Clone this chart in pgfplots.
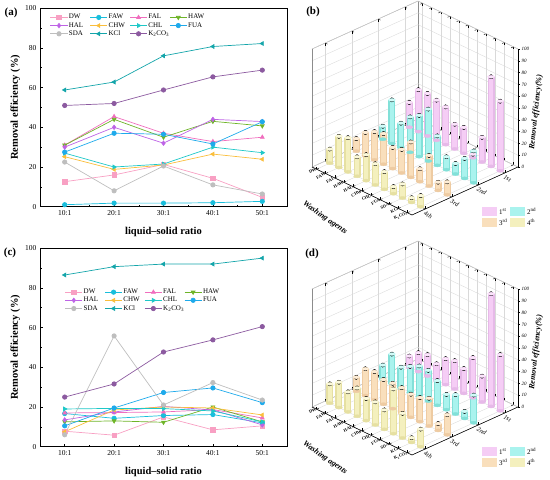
\documentclass[border=0pt]{standalone}
\usepackage{pgfplots}
\pgfplotsset{compat=1.18}
\usepackage{pgfplotstable}
\usepackage{fontspec}
\setmainfont{Liberation Serif}

\definecolor{cDW}{RGB}{248,160,195}
\definecolor{cFAW}{RGB}{25,190,220}
\definecolor{cFAL}{RGB}{240,110,190}
\definecolor{cHAW}{RGB}{110,180,40}
\definecolor{cHAL}{RGB}{190,100,230}
\definecolor{cCHW}{RGB}{250,190,60}
\definecolor{cCHL}{RGB}{30,200,200}
\definecolor{cFUA}{RGB}{30,170,235}
\definecolor{cSDA}{RGB}{190,190,190}
\definecolor{cKCl}{RGB}{20,165,170}
\definecolor{cKCO}{RGB}{140,90,160}

\definecolor{aD}{RGB}{230,185,232}\definecolor{aM}{RGB}{245,205,245}\definecolor{aT}{RGB}{251,228,251}
\definecolor{bD}{RGB}{130,224,216}\definecolor{bM}{RGB}{170,243,238}\definecolor{bT}{RGB}{210,251,248}
\definecolor{cD}{RGB}{238,203,162}\definecolor{cM}{RGB}{249,223,188}\definecolor{cT}{RGB}{253,237,215}
\definecolor{dD}{RGB}{230,224,162}\definecolor{dM}{RGB}{244,240,190}\definecolor{dT}{RGB}{251,249,220}

\pgfplotstableread{
x DW FAW FAL HAW HAL CHW CHL FUA SDA KCl KCO
1 12.6 1.0 31.0 31.0 30.0 25.2 27.0 27.5 22.5 58.8 51.0
2 16.0 1.8 45.4 44.0 40.0 18.8 20.0 37.0 8.0 62.8 52.0
3 21.3 1.8 37.0 35.0 32.0 21.0 21.5 36.5 20.5 76.0 58.8
4 14.3 2.0 32.8 43.0 44.0 26.5 30.0 31.6 11.0 80.7 65.4
5 4.7 2.7 35.0 40.7 42.9 23.9 27.2 42.8 6.4 82.2 68.8
}\dataA

\pgfplotstableread{
x DW FAW FAL HAW HAL CHW CHL FUA SDA KCl KCO
1 7.8 16.7 17.0 12.5 13.5 7.5 19.0 10.5 6.0 86.5 25.0
2 5.8 14.3 17.2 13.0 17.5 18.5 19.3 19.5 55.8 90.7 31.6
3 15.0 15.7 17.5 12.3 20.3 20.0 19.2 27.3 21.0 92.0 47.7
4 8.5 16.2 18.7 20.0 18.5 19.5 18.0 29.6 32.3 92.0 53.8
5 10.5 12.0 14.5 12.5 11.0 16.0 12.5 22.2 23.5 95.0 60.5
}\dataC

% panel (b): one table per wash (y: 1st=3 ... 4th=0), o = floor
\pgfplotstableread{
x y o v
0 3 0 21
1 3 0 35.5
2 3 0 36
3 3 0 34
4 3 0 32
5 3 0 21
6 3 0 22
7 3 0 3
8 3 0 21
9 3 0 76
10 3 0 59
}\bOne
\pgfplotstableread{
x y o v
0 2 0 11
1 2 0 37
2 2 0 21
3 2 0 30
4 2 0 35
5 2 0 44
6 2 0 25
7 2 0 11
8 2 0 9
9 2 0 17
10 2 0 27
}\bTwo
\pgfplotstableread{
x y o v
0 1 0 10.7
1 1 0 19.6
2 1 0 24
3 1 0 26
4 1 0 18
5 1 0 20
6 1 0 30
7 1 0 11
8 1 0 26
9 1 0 7
10 1 0 11
}\bThree
\pgfplotstableread{
x y o v
0 0 0 12
1 0 0 26.5
2 0 0 29
3 0 0 16.5
4 0 0 22
5 0 0 18
6 0 0 15
7 0 0 6
8 0 0 12
9 0 0 4
10 0 0 9.5
}\bFour

% panel (d)
\pgfplotstableread{
x y o v
0 3 0 9.5
1 3 0 16
2 3 0 18
3 3 0 14
4 3 0 22
5 3 0 24
6 3 0 21
7 3 0 34
8 3 0 22
9 3 0 95.5
10 3 0 47.6
}\dOne
\pgfplotstableread{
x y o v
0 2 0 12
1 2 0 25
2 2 0 17.6
3 2 0 22
4 2 0 26
5 2 0 26
6 2 0 21
7 2 0 13
8 2 0 16.5
9 2 0 6
10 2 0 23.5
}\dTwo
\pgfplotstableread{
x y o v
0 1 0 11.8
1 1 0 22.7
2 1 0 24
3 1 0 21
4 1 0 21.5
5 1 0 21.5
6 1 0 19.6
7 1 0 20.5
8 1 0 23.6
9 1 0 5.8
10 1 0 17
}\dThree
\pgfplotstableread{
x y o v
0 0 0 16.4
1 0 0 21.5
2 0 0 17
3 0 0 24
4 0 0 18.8
5 0 0 19.6
6 0 0 16.5
7 0 0 38
8 0 0 21
9 0 0 4
10 0 0 15
}\dFour

\newcommand\lgd[1]{\makebox[15pt][l]{#1}}

\pgfplotsset{
  sDW/.style={color=cDW, mark=square*, mark options={solid,fill=cDW}},
  sFAW/.style={color=cFAW, mark=*, mark options={solid,fill=cFAW}},
  sFAL/.style={color=cFAL, mark=triangle*, mark options={solid,fill=cFAL}},
  sHAW/.style={color=cHAW, mark=triangle*, mark options={solid,fill=cHAW,rotate=180}},
  sHAL/.style={color=cHAL, mark=diamond*, mark options={solid,fill=cHAL}},
  sCHW/.style={color=cCHW, mark=triangle*, mark options={solid,fill=cCHW,rotate=90}},
  sCHL/.style={color=cCHL, mark=triangle*, mark options={solid,fill=cCHL,rotate=-90}},
  sFUA/.style={color=cFUA, mark=*, mark options={solid,fill=cFUA}},
  sSDA/.style={color=cSDA, mark=*, mark options={solid,fill=cSDA}},
  sKCl/.style={color=cKCl, mark=triangle*, mark options={solid,fill=cKCl,rotate=90}},
  sKCO/.style={color=cKCO, mark=*, mark options={solid,fill=cKCO}},
  lineaxis/.style={
    anchor=south west, width=247pt, height=198.5pt, scale only axis,
    xmin=0.5, xmax=5.5, ymin=0, ymax=100,
    xtick={1,2,3,4,5}, xticklabels={10:1,20:1,30:1,40:1,50:1},
    ytick={0,20,...,100}, minor x tick num=1, minor y tick num=1,
    tick pos=left, tick align=inside, major tick length=3pt, minor tick length=1.8pt,
    axis line style={line width=0.6pt}, tick style={line width=0.5pt, black},
    /pgf/number format/assume math mode=true,
    ticklabel style={font=\fontsize{7.5}{8}\selectfont},
    xlabel={liquid–solid ratio}, ylabel={Removal efficiency (\%)},
    label style={font=\bfseries\fontsize{10.5}{12}\selectfont},
    xlabel style={at={(axis description cs:0.5,-0.125)}, anchor=center},
    ylabel style={at={(axis description cs:-0.1,0.5)}, anchor=center},
    every axis plot/.append style={line width=0.7pt, mark size=2.2pt},
    legend columns=4,
    legend style={draw=none, fill=none, anchor=north west,
      font=\fontsize{7}{8}\selectfont, nodes={inner sep=1pt},
      /tikz/every even column/.append style={column sep=5pt}},
  },
  baraxis/.style={
    anchor=origin,
    x={(9.09pt,-4.36pt)}, y={(26.5pt,12pt)}, z={(0pt,1.18pt)},
    xmin=-0.5, xmax=10.5, ymin=-0.5, ymax=3.5, zmin=0, zmax=100,
    xtick={0,...,10},
    xticklabels={DW,FAW,FAL,HAW,HAL,CHW,CHL,FUA,SDA,KCl,K\textsubscript{2}CO\textsubscript{3}},
    ytick={0,1,2,3}, yticklabels={4th,3rd,2nd,1st},
    ztick={0,10,...,100}, zticklabels={}, ztick style={draw=none},
    grid=major, grid style={black!15, line width=0.35pt},
    axis line style={black!45, line width=0.4pt},
    tick style={black, line width=0.4pt}, major tick length=2.5pt,
    x tick label style={font=\fontsize{4.4}{5}\selectfont\bfseries, rotate=25, anchor=east, inner sep=0.3pt},
    y tick label style={font=\fontsize{6.5}{7}\selectfont\itshape, rotate=-30, anchor=north west, inner sep=1pt},
    clip=false,
  },
}

\newcommand\lineplots[1]{%
  \addplot[sDW] table[x=x,y=DW]{#1}; \addlegendentry{\lgd{DW}}
  \addplot[sFAW] table[x=x,y=FAW]{#1}; \addlegendentry{\lgd{FAW}}
  \addplot[sFAL] table[x=x,y=FAL]{#1}; \addlegendentry{\lgd{FAL}}
  \addplot[sHAW] table[x=x,y=HAW]{#1}; \addlegendentry{\lgd{HAW}}
  \addplot[sHAL] table[x=x,y=HAL]{#1}; \addlegendentry{\lgd{HAL}}
  \addplot[sCHW] table[x=x,y=CHW]{#1}; \addlegendentry{\lgd{CHW}}
  \addplot[sCHL] table[x=x,y=CHL]{#1}; \addlegendentry{\lgd{CHL}}
  \addplot[sFUA] table[x=x,y=FUA]{#1}; \addlegendentry{\lgd{FUA}}
  \addplot[sSDA] table[x=x,y=SDA]{#1}; \addlegendentry{\lgd{SDA}}
  \addplot[sKCl] table[x=x,y=KCl]{#1}; \addlegendentry{\lgd{KCl}}
  \addplot[sKCO] table[x=x,y=KCO]{#1}; \addlegendentry{\lgd{K\textsubscript{2}CO\textsubscript{3}}}
}

% #1 table, #2 dark, #3 mid, #4 top
\newcommand\barrow[4]{%
  \addplot3[only marks, mark=*, mark size=3.5pt, mark options={yscale=0.45, fill=#2, draw=#2}]
    table[x=x, y=y, z=o]{#1};
  \addplot3[only marks, mark=none, error bars/.cd, z dir=minus, z explicit, error mark=none,
    error bar style={draw=#2, line width=7pt}]
    table[x=x, y=y, z=v, z error=v]{#1};
  \addplot3[only marks, mark=none, error bars/.cd, z dir=minus, z explicit, error mark=none,
    error bar style={draw=#3, line width=4.6pt}]
    table[x=x, y=y, z=v, z error=v]{#1};
  \addplot3[only marks, mark=*, mark size=3.5pt, mark options={yscale=0.45, fill=#4, draw=#3, line width=0.2pt}]
    table[x=x, y=y, z=v]{#1};
}

\newcommand\zaxisright{%
  \draw[black, line width=0.5pt] (axis cs:-0.5,-0.5,0) -- (axis cs:10.5,-0.5,0) -- (axis cs:10.5,3.5,0);
  \draw[black, line width=0.5pt] (axis cs:10.5,3.5,0) -- (axis cs:10.5,3.5,100);
  \pgfplotsinvokeforeach{0,10,20,30,40,50,60,70,80,90,100}{%
    \draw[black, line width=0.4pt] (axis cs:10.5,3.5,##1) -- ++(2.5pt,0pt)
      node[right, inner sep=1pt, font=\fontsize{5}{6}\selectfont\itshape]{##1};
  }%
}

\newcommand\barlegend[1]{%
  \begin{scope}[yshift=#1]
    \fill[aM] (482pt,264pt) rectangle (497pt,272.7pt);
    \node[anchor=west, inner sep=1pt, font=\fontsize{7}{8}\selectfont] at (498pt,268.3pt) {1\textsuperscript{st}};
    \fill[bM] (510pt,264pt) rectangle (525pt,272.7pt);
    \node[anchor=west, inner sep=1pt, font=\fontsize{7}{8}\selectfont] at (526pt,268.3pt) {2\textsuperscript{nd}};
    \fill[cM] (482pt,253.3pt) rectangle (497pt,262pt);
    \node[anchor=west, inner sep=1pt, font=\fontsize{7}{8}\selectfont] at (498pt,257.7pt) {3\textsuperscript{rd}};
    \fill[dM] (510pt,253.3pt) rectangle (525pt,262pt);
    \node[anchor=west, inner sep=1pt, font=\fontsize{7}{8}\selectfont] at (526pt,257.7pt) {4\textsuperscript{th}};
  \end{scope}
}

\begin{document}
\begin{tikzpicture}
\useasboundingbox (0,0) rectangle (550pt,480pt);

% (a)
\begin{axis}[lineaxis, at={(40pt,273.3pt)},
  legend style={at={(axis description cs:0.028,0.985)}}]
  \lineplots{\dataA}
\end{axis}

% (c)
\begin{axis}[lineaxis, at={(40pt,33.3pt)},
  legend style={at={(axis description cs:0.088,0.81)}}]
  \lineplots{\dataC}
\end{axis}

% (b)
\begin{axis}[baraxis, at={(329.8pt,316.8pt)}]
  \barrow{\bOne}{aD}{aM}{aT}
  \barrow{\bTwo}{bD}{bM}{bT}
  \barrow{\bThree}{cD}{cM}{cT}
  \barrow{\bFour}{dD}{dM}{dT}
  \zaxisright
\end{axis}

% (d)
\begin{axis}[baraxis, at={(329.8pt,76.8pt)}]
  \barrow{\dOne}{aD}{aM}{aT}
  \barrow{\dTwo}{bD}{bM}{bT}
  \barrow{\dThree}{cD}{cM}{cT}
  \barrow{\dFour}{dD}{dM}{dT}
  \zaxisright
\end{axis}

\barlegend{0pt}
\barlegend{-240pt}

\node[font=\bfseries\itshape\fontsize{8}{9}\selectfont, rotate=-35] at (325pt,262pt) {Washing agents};
\node[font=\bfseries\itshape\fontsize{8}{9}\selectfont, rotate=-35] at (325pt,22pt) {Washing agents};
\node[font=\bfseries\itshape\fontsize{8}{9}\selectfont, rotate=84] at (536pt,368pt) {Removal efficiency(\%)};
\node[font=\bfseries\itshape\fontsize{8}{9}\selectfont, rotate=84] at (536pt,128pt) {Removal efficiency(\%)};

\node[font=\bfseries\fontsize{11}{12}\selectfont] at (11pt,467pt) {(a)};
\node[font=\bfseries\fontsize{11}{12}\selectfont] at (313pt,468pt) {(b)};
\node[font=\bfseries\fontsize{11}{12}\selectfont] at (10pt,227pt) {(c)};
\node[font=\bfseries\fontsize{11}{12}\selectfont] at (312pt,226pt) {(d)};
\end{tikzpicture}
\end{document}
